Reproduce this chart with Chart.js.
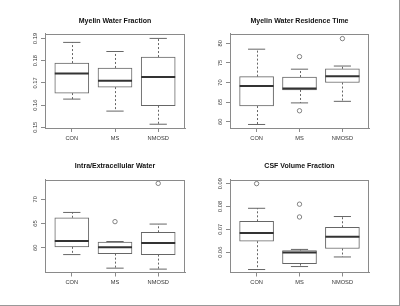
<!DOCTYPE html>
<html>
<head>
<meta charset="utf-8">
<script src="https://cdn.jsdelivr.net/npm/chart.js@4/dist/chart.umd.min.js"></script>
<style>
  html, body { margin: 0; padding: 0; background: #fff; }
  #page { position: relative; width: 399px; height: 305px; border-right: 1px solid #999; border-bottom: 1px solid #999; overflow: hidden; }
  .panel { position: absolute; width: 200px; height: 153px; }
</style>
</head>
<body>
<div id="page">
  <div class="panel" style="left:0;top:0"><canvas id="c-mwf" width="200" height="153"></canvas></div>
  <div class="panel" style="left:200px;top:0"><canvas id="c-mwrt" width="200" height="153"></canvas></div>
  <div class="panel" style="left:0;top:153px"><canvas id="c-iew" width="200" height="153"></canvas></div>
  <div class="panel" style="left:200px;top:153px"><canvas id="c-csf" width="200" height="153"></canvas></div>
</div>
<script>
// groups on the x axis
const groups = ['CON', 'MS', 'NMOSD'];
const groupPos = [1, 2, 3];

// box stats per group: [low whisker, Q1, median, Q3, high whisker]
const mwfBoxes = [[0.1627, 0.1654, 0.1742, 0.1789, 0.1882], [0.1573, 0.1681, 0.1709, 0.1767, 0.1841], [0.1514, 0.1597, 0.1726, 0.1816, 0.1900]];
const mwfOutliers = [];
const mwfTicks = [0.15, 0.16, 0.17, 0.18, 0.19];

const mwrtBoxes = [[59.3, 64.0, 69.1, 71.5, 78.5], [64.8, 68.1, 68.5, 71.4, 73.4], [65.2, 70.0, 71.6, 73.5, 74.2]];
const mwrtOutliers = [[1, 76.6], [1, 62.8], [2, 81.2]];   // [group index, value]
const mwrtTicks = [60, 65, 70, 75, 80];

const iewBoxes = [[58.6, 60.2, 61.4, 66.2, 67.3], [55.8, 58.8, 60.1, 61.2, 61.3], [55.6, 58.6, 61.0, 63.2, 64.9]];
const iewOutliers = [[1, 65.4], [2, 73.3]];
const iewTicks = [60, 65, 70];

const csfBoxes = [[0.0524, 0.0648, 0.0684, 0.0735, 0.0792], [0.0537, 0.0550, 0.0598, 0.0607, 0.0612], [0.0579, 0.0616, 0.0668, 0.0709, 0.0756]];
const csfOutliers = [[0, 0.0900], [1, 0.0810], [1, 0.0754]];
const csfTicks = [0.06, 0.07, 0.08, 0.09];

const FONT = '"Liberation Sans", Arial, sans-serif';
const LINE = '#666';
const FRAME = '#8a8a8a';

function boxPlugin(boxes, ticks, digits) {
    return {
        id: 'boxparts',
        afterDatasetsDraw(chart) {
            const ctx = chart.ctx;
            const x = chart.scales.x, y = chart.scales.y;
            const area = chart.chartArea;
            const bars = chart.getDatasetMeta(0).data;
            ctx.save();
            boxes.forEach((b, i) => {
                const el = bars[i];
                const cx = Math.round(el.x) + 0.5;
                const capL = x.getPixelForValue(groupPos[i] - 0.2);
                const capR = x.getPixelForValue(groupPos[i] + 0.2);
                const yLow = y.getPixelForValue(b[0]), yQ1 = y.getPixelForValue(b[1]);
                const yQ3 = y.getPixelForValue(b[3]), yHigh = y.getPixelForValue(b[4]);
                // whiskers (dashed)
                ctx.strokeStyle = LINE;
                ctx.lineWidth = 1;
                ctx.setLineDash([2, 2]);
                ctx.beginPath();
                ctx.moveTo(cx, yQ1); ctx.lineTo(cx, yLow);
                ctx.moveTo(cx, yQ3); ctx.lineTo(cx, yHigh);
                ctx.stroke();
                // caps
                ctx.setLineDash([]);
                ctx.beginPath();
                ctx.moveTo(capL, yLow); ctx.lineTo(capR, yLow);
                ctx.moveTo(capL, yHigh); ctx.lineTo(capR, yHigh);
                ctx.stroke();
                // median
                const ym = y.getPixelForValue(b[2]);
                ctx.strokeStyle = '#333';
                ctx.lineWidth = 2;
                ctx.beginPath();
                ctx.moveTo(el.x - el.width / 2, ym); ctx.lineTo(el.x + el.width / 2, ym);
                ctx.stroke();
            });
            // plot frame
            ctx.strokeStyle = FRAME;
            ctx.lineWidth = 1;
            ctx.strokeRect(Math.round(area.left) + 0.5, Math.round(area.top) + 0.5,
                Math.round(area.right - area.left) - 1, Math.round(area.bottom - area.top) - 1);
            // y tick labels, rotated like R's default
            ctx.fillStyle = '#333';
            ctx.font = '5.7px ' + FONT;
            ctx.textAlign = 'center';
            ctx.textBaseline = 'middle';
            ticks.forEach(v => {
                ctx.save();
                ctx.translate(area.left - 10, y.getPixelForValue(v));
                ctx.rotate(-Math.PI / 2);
                ctx.fillText(v.toFixed(digits), 0, 0);
                ctx.restore();
            });
            ctx.restore();
        }
    };
}

function makePanel(id, title, boxes, outliers, ticks, digits, yMin, yMax, pad, titlePad) {
    new Chart(document.getElementById(id), {
        type: 'bar',
        data: {
            datasets: [
                {
                    data: boxes.map((b, i) => ({ x: groupPos[i], y: [b[1], b[3]] })),
                    backgroundColor: '#fff',
                    borderColor: LINE,
                    borderWidth: 1,
                    borderSkipped: false,
                    barThickness: 34,
                    grouped: false
                },
                {
                    type: 'scatter',
                    data: outliers.map(o => ({ x: groupPos[o[0]], y: o[1] })),
                    pointRadius: 2.2,
                    pointBorderColor: LINE,
                    pointBackgroundColor: 'rgba(0,0,0,0)',
                    pointBorderWidth: 0.8
                }
            ]
        },
        options: {
            responsive: false,
            animation: false,
            devicePixelRatio: 1,
            layout: { padding: pad },
            plugins: {
                legend: { display: false },
                tooltip: { enabled: false },
                title: {
                    display: true,
                    text: title,
                    fullSize: false,
                    color: '#111',
                    font: { family: FONT, size: 7, weight: 'bold', lineHeight: 1 },
                    padding: titlePad
                }
            },
            scales: {
                x: {
                    type: 'linear',
                    offset: false,
                    min: 0.38,
                    max: 3.62,
                    afterBuildTicks: s => { s.ticks = groupPos.map(v => ({ value: v })); },
                    afterFit: s => { s.height = 20; },
                    ticks: {
                        callback: (v, i) => groups[i],
                        color: '#333',
                        font: { family: FONT, size: 5.7 },
                        padding: 3,
                        autoSkip: false,
                        maxRotation: 0
                    },
                    grid: { offset: false, drawOnChartArea: false, tickLength: 4, color: FRAME },
                    border: { color: FRAME }
                },
                y: {
                    type: 'linear',
                    min: yMin,
                    max: yMax,
                    afterBuildTicks: s => { s.ticks = ticks.map(v => ({ value: v })); },
                    afterFit: s => { s.width = 16; },
                    ticks: { display: false },
                    grid: { drawOnChartArea: false, tickLength: 4, color: FRAME },
                    border: { color: FRAME }
                }
            }
        },
        plugins: [boxPlugin(boxes, ticks, digits)]
    });
}

const topTitle = { top: 17.5, bottom: 9 };
const lowTitle = { top: 9.2, bottom: 10.3 };

makePanel('c-mwf', 'Myelin Water Fraction', mwfBoxes, mwfOutliers, mwfTicks, 2, 0.1497, 0.1922,
    { left: 29, right: 15, top: 0, bottom: 5 }, topTitle);
makePanel('c-mwrt', 'Myelin Water Residence Time', mwrtBoxes, mwrtOutliers, mwrtTicks, 0, 58.4, 82.5,
    { left: 14, right: 31, top: 0, bottom: 5 }, topTitle);
makePanel('c-iew', 'Intra/Extracellular Water', iewBoxes, iewOutliers, iewTicks, 0, 54.9, 74.1,
    { left: 29, right: 15, top: 0, bottom: 13.5 }, lowTitle);
makePanel('c-csf', 'CSF Volume Fraction', csfBoxes, csfOutliers, csfTicks, 2, 0.0511, 0.0918,
    { left: 14, right: 31, top: 0, bottom: 13.5 }, lowTitle);
</script>
</body>
</html>
